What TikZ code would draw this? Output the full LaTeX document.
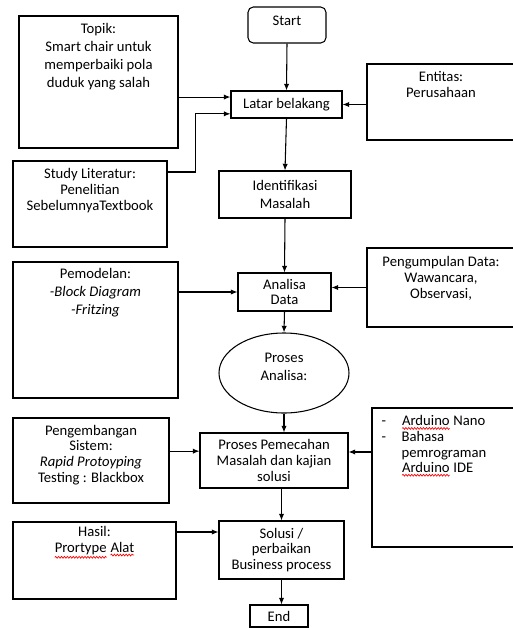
\documentclass[tikz,border=0pt]{standalone}
\usepackage{fontspec}
\setmainfont{Carlito}
\usetikzlibrary{positioning,arrows.meta,shapes.geometric,decorations.pathmorphing}
\newcommand\redwave[1]{\tikz[x=1pt,y=1pt,baseline=(w.base)]{\node[inner sep=0pt,outer sep=0pt](w){#1};
	\draw[red,line width=0.5pt,decorate,decoration={snake,amplitude=0.7pt,segment length=2.2pt}]([yshift=-1.8pt]w.south west)--([yshift=-1.8pt]w.south east);}}
\begin{document}
\begin{tikzpicture}[x=0.75pt,y=-0.75pt,
		flowbox/.style={draw,line width=0.8pt,inner sep=1pt,align=center,font=\fontsize{11}{11.7}\selectfont},
		panel/.style={draw,line width=0.8pt},
		note/.style={inner sep=0pt,align=center,font=\fontsize{11}{11.7}\selectfont},
		arr/.style={line width=0.8pt,-{Latex[length=5pt,width=4pt]}}]
	\path[use as bounding box](0,0)rectangle(512,628);
	\node[flowbox,rounded corners=4pt,minimum width=58.5pt,minimum height=27pt,text depth=7pt](start)at(287,25){Start};
	\node[flowbox,minimum width=83.25pt,minimum height=20.25pt](latar)at(286.5,104.5){Latar belakang};
	\node[flowbox,minimum width=99pt,minimum height=35.25pt,font=\fontsize{11}{13}\selectfont](ident)at(285,194.5){Identifikasi\\Masalah};
	\node[flowbox,minimum width=69.75pt,minimum height=28.5pt](analisa)at(284.5,292){Analisa\\Data};
	\node[flowbox,ellipse,inner sep=0pt,minimum width=97.5pt,minimum height=60pt,text depth=9pt,font=\fontsize{11}{13.5}\selectfont](proana)at(284,373){Proses\\Analisa:};
	\node[flowbox,minimum width=111pt,minimum height=41.25pt](proses)at(274,460.5){Proses Pemecahan\\Masalah dan kajian\\solusi};
	\node[flowbox,minimum width=93.75pt,minimum height=43.5pt](solusi)at(281.5,550){Solusi /\\perbaikan\\Business process};
	\node[flowbox,minimum width=43.5pt,minimum height=16.5pt](end)at(279,616){End};
	\node[panel,minimum width=119.25pt,minimum height=99pt](topik)at(98.5,82){};
	\node[note,below=6pt of topik.north,font=\fontsize{11}{13.5}\selectfont]{Topik:\\Smart chair untuk\\memperbaiki pola\\duduk yang salah};
	\node[panel,minimum width=111pt,minimum height=57pt](entitas)at(441,102){};
	\node[note,below=6pt of entitas.north]{Entitas:\\Perusahaan};
	\node[panel,minimum width=115.5pt,minimum height=64.5pt](studi)at(90,204){};
	\node[note,below=6pt of studi.north]{Study Literatur:\\Penelitian\\SebelumnyaTextbook};
	\node[panel,minimum width=123.75pt,minimum height=102pt](pemodelan)at(95.5,330){};
	\node[note,below=5pt of pemodelan.north,font=\fontsize{11}{13.5}\selectfont]{Pemodelan:\\\textit{-Block Diagram}\\\textit{-Fritzing}};
	\node[panel,minimum width=111pt,minimum height=59.25pt](kumpul)at(441,287.5){};
	\node[note,below=6.75pt of kumpul.north]{Pengumpulan Data:\\Wawancara,\\Observasi,};
	\node[panel,minimum width=117pt,minimum height=63.75pt](kembang)at(91,460.5){};
	\node[note,below=5.5pt of kembang.north]{Pengembangan\\Sistem:\\\textit{Rapid Protoyping}\\Testing : Blackbox};
	\node[panel,minimum width=111pt,minimum height=104.25pt](arduino)at(446,477.5){};
	\node[note,align=left,below right=6pt and 7.5pt of arduino.north west]{\makebox[15pt][l]{-}\redwave{Arduino} Nano\\\makebox[15pt][l]{-}Bahasa\\\hspace*{15pt}pemrograman\\\hspace*{15pt}\redwave{Arduino} IDE};
	\node[panel,minimum width=122.25pt,minimum height=57.75pt](hasil)at(94.5,560.5){};
	\node[note,below=3.75pt of hasil.north]{Hasil:\\\redwave{Prortype} \redwave{Alat}};
	\coordinate(tin)at([yshift=5.6pt]latar.west);
	\coordinate(lin)at([yshift=-7pt]latar.west);
	\coordinate(pin)at([yshift=7pt]proses.west);
	\coordinate(ain)at([yshift=6.4pt]proses.east);
	\coordinate(hin)at([yshift=13.5pt]solusi.west);
	\draw[arr](start.south)--(latar.north);
	\draw[arr](latar.south)--(ident.north);
	\draw[arr](ident.south)--(analisa.north);
	\draw[arr](analisa.south)--(proana.north);
	\draw[arr](proana.south)--(proana.south|-proses.north);
	\draw[arr](proses.south-|solusi.north)--(solusi.north);
	\draw[arr](solusi.south)--(solusi.south|-end.north);
	\draw[arr](topik.east|-tin)--(tin);
	\draw[arr]([yshift=24pt]studi.east)--++(28,0)|-(lin);
	\draw[arr](entitas.west|-latar.east)--(latar.east);
	\draw[arr](pemodelan.east|-analisa.west)--(analisa.west);
	\draw[arr](kumpul.west)--(kumpul.west-|analisa.east);
	\draw[arr](kembang.east|-pin)--(pin);
	\draw[arr](arduino.west|-ain)--(ain);
	\draw[arr](hasil.east|-hin)--(hin);
\end{tikzpicture}
\end{document}
